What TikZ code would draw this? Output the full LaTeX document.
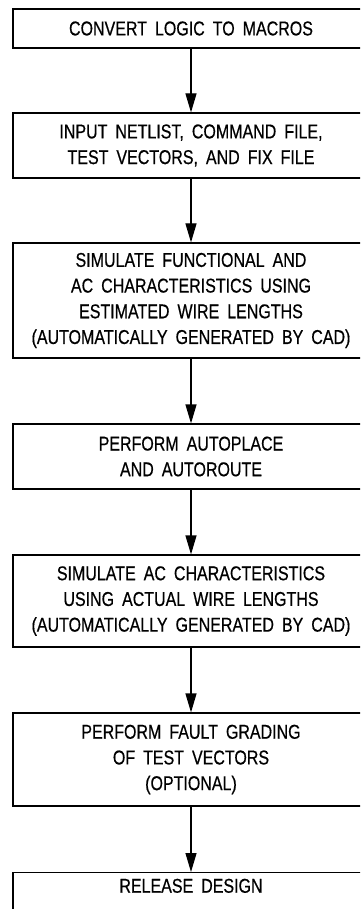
\documentclass[tikz,border=0pt]{standalone}
\usepackage{fontspec}
\setmainfont{Liberation Sans}[FakeStretch=0.8, WordSpace=1.8, FakeBold=0.5]
\usetikzlibrary{arrows.meta}

\tikzset{
  stage/.style={draw, line width=1.2pt, minimum width=356pt, inner sep=0pt,
                align=center, font=\fontsize{20}{25.7}\selectfont},
  flow/.style={line width=1.2pt, -{Triangle[length=19pt, width=11pt]}}
}

\begin{document}
\begin{tikzpicture}[x=1pt, y=-1pt]
  \useasboundingbox (0,0) rectangle (360,909);
  \clip (0,0) rectangle (360,909);

  % design steps, top to bottom
  \node[stage, minimum height=39pt] (convert) at (191,28.5) {CONVERT LOGIC TO MACROS};
  \node[stage, minimum height=65pt] (input) at (191,145.5) {INPUT NETLIST, COMMAND FILE,\\TEST VECTORS, AND FIX FILE};
  \node[stage, minimum height=115pt] (simfunc) at (191,300.5) {SIMULATE FUNCTIONAL AND\\AC CHARACTERISTICS USING\\ESTIMATED WIRE LENGTHS\\(AUTOMATICALLY GENERATED BY CAD)};
  \node[stage, minimum height=65pt] (place) at (191,456.5) {PERFORM AUTOPLACE\\AND AUTOROUTE};
  \node[stage, minimum height=92pt] (simac) at (191,601) {SIMULATE AC CHARACTERISTICS\\USING ACTUAL WIRE LENGTHS\\(AUTOMATICALLY GENERATED BY CAD)};
  \node[stage, minimum height=93pt] (fault) at (191,759.5) {PERFORM FAULT GRADING\\OF TEST VECTORS\\(OPTIONAL)};
  % last box runs off the bottom edge
  \node[stage, minimum height=40pt, text depth=13.7pt, anchor=north] (release) at (191,872) {RELEASE DESIGN};

  \draw[flow] (convert) -- (input);
  \draw[flow] (input) -- (simfunc);
  \draw[flow] (simfunc) -- (place);
  \draw[flow] (place) -- (simac);
  \draw[flow] (simac) -- (fault);
  \draw[flow] (fault) -- (release);
\end{tikzpicture}
\end{document}
